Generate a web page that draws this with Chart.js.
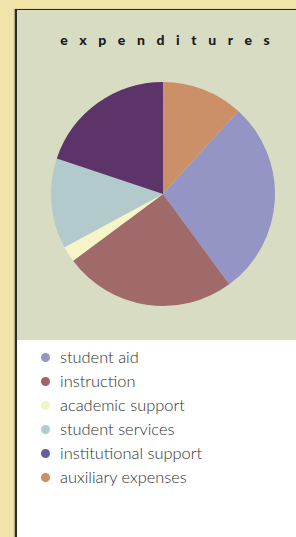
<!DOCTYPE html>
<html>
<head>
<meta charset="utf-8">
<script src="https://cdn.jsdelivr.net/npm/chart.js@4"></script>
<style>
  html, body { margin: 0; padding: 0; }
  body {
    width: 296px; height: 537px; overflow: hidden; position: relative;
    background: #f1e3aa;
    font-family: 'Lato', 'Open Sans', sans-serif;
  }
  .panel {
    position: absolute; left: 15px; top: 9px; width: 300px; height: 540px;
    background: #ffffff;
    border-left: 2px solid #2b2b2b; border-top: 1px solid #2b2b2b;
    box-shadow: -1px 0 1px rgba(0,0,0,0.25);
  }
  .top {
    position: absolute; left: 0; top: 0; width: 300px; height: 330px;
    background: #d8dcc3;
  }
  .title {
    position: absolute; left: 0; top: 21px; width: 296px;
    text-align: center; font-weight: 900; font-size: 14px;
    letter-spacing: 11.6px; padding-left: 11.6px; box-sizing: border-box;
    color: #1a1a1a;
  }
  .chartBox {
    position: absolute; left: 32px; top: 69.5px; width: 228px; height: 228px;
  }
  ul.legend {
    position: absolute; left: 0; top: 335px; margin: 0; padding: 0; list-style: none;
  }
  ul.legend li {
    position: relative; height: 24.1px; line-height: 24px;
    padding-left: 43px; font-size: 16.4px; color: #303030; font-weight: 300;
  }
  ul.legend li span.dot {
    position: absolute; left: 24px; top: 7.5px; width: 9px; height: 9px; border-radius: 50%;
  }
</style>
</head>
<body>
<div class="panel">
  <div class="top">
    <div class="title">expenditures</div>
    <div class="chartBox"><canvas id="pie"></canvas></div>
  </div>
  <ul class="legend" id="legend"></ul>
</div>
<script>
// Data
const categories = ['student aid', 'instruction', 'academic support', 'student services', 'institutional support', 'auxiliary expenses'];
const shares = [28.2, 24.9, 2.3, 13.0, 19.9, 11.7];

// Colours
const sliceColors = ['#9495c4', '#a0696a', '#f6f4c8', '#b2cacb', '#5c346a', '#cb9068'];
const dotColors = ['#9495c8', '#a06468', '#f5f3c5', '#b3cbcb', '#6a5aa0', '#d08d66'];

// HTML legend
const legendEl = document.getElementById('legend');
categories.forEach((name, i) => {
    const li = document.createElement('li');
    const dot = document.createElement('span');
    dot.className = 'dot';
    dot.style.background = dotColors[i];
    li.appendChild(dot);
    li.appendChild(document.createTextNode(name));
    legendEl.appendChild(li);
});

new Chart(document.getElementById('pie'), {
    type: 'pie',
    data: {
        labels: categories,
        datasets: [{
            data: shares,
            backgroundColor: sliceColors,
            borderWidth: 0
        }]
    },
    options: {
        responsive: true,
        maintainAspectRatio: true,
        animation: false,
        rotation: 42.2,
        layout: { padding: 2 },
        plugins: {
            legend: { display: false },
            tooltip: { enabled: false }
        }
    }
});
</script>
</body>
</html>
